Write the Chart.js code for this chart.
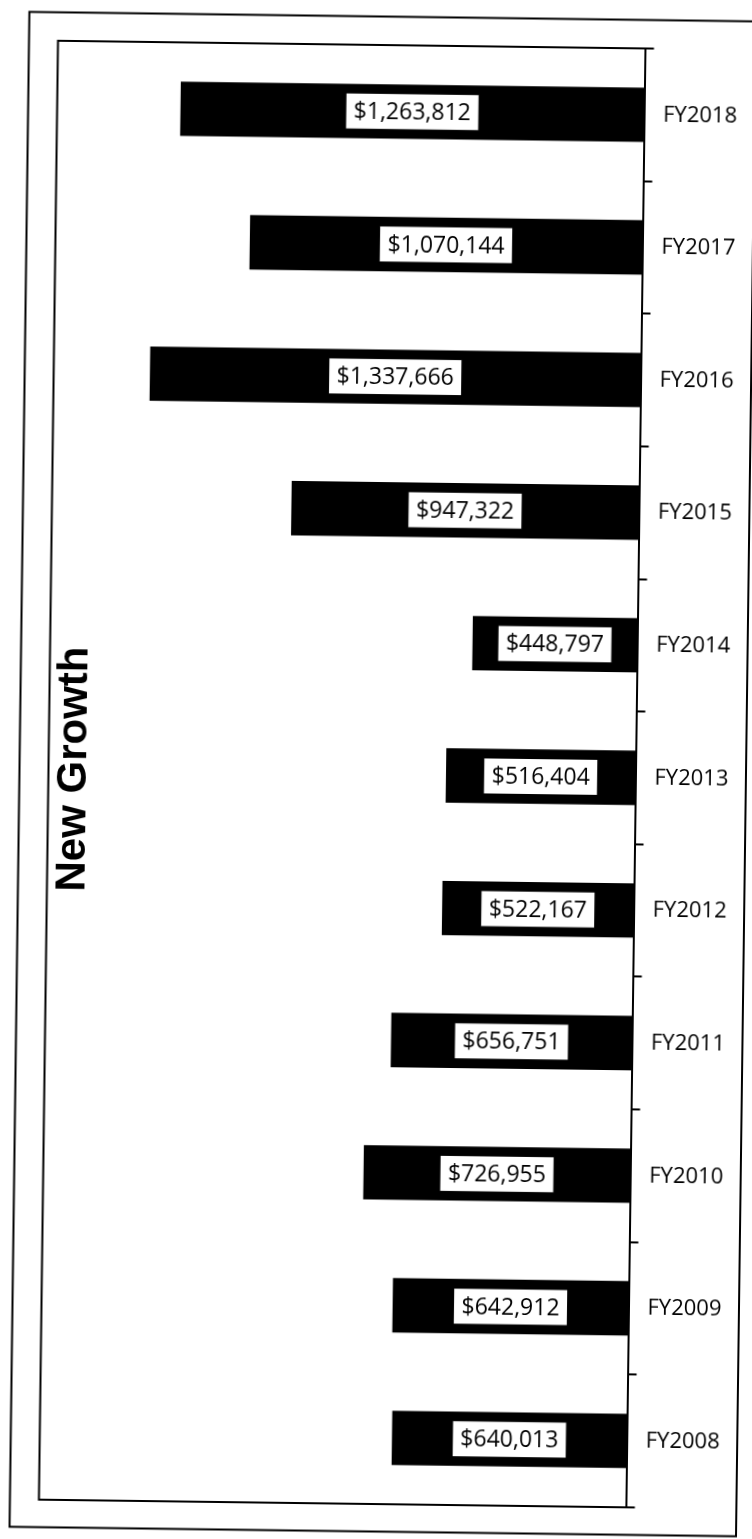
<!DOCTYPE html>
<html>
<head>
<meta charset="utf-8">
<script src="https://cdn.jsdelivr.net/npm/chart.js@4"></script>
<style>
  html, body { margin: 0; padding: 0; background: #fff; overflow: hidden; }
  #wrap { width: 752px; height: 1539px; transform: rotate(0.75deg); transform-origin: 376px 770px; }
</style>
</head>
<body>
<div id="wrap"><canvas id="chart_growth" width="752" height="1539"></canvas></div>
<script>
// Categories, top to bottom
const years = ["FY2018", "FY2017", "FY2016", "FY2015", "FY2014", "FY2013",
               "FY2012", "FY2011", "FY2010", "FY2009", "FY2008"];

// New growth amount per year ($)
const newGrowth = [1263812, 1070144, 1337666, 947322, 448797, 516404,
                   522167, 656751, 726955, 642912, 640013];

const chartTitle = "New Growth";
const axisMax = 1600000;

// Outer frame + plot area border (left, top, bottom)
const framePlugin = {
  id: "frames",
  beforeDraw(chart) {
    const ctx = chart.ctx;
    const a = chart.chartArea;
    ctx.save();
    ctx.fillStyle = "#fff";
    ctx.fillRect(0, 0, chart.width, chart.height);
    ctx.strokeStyle = "#000";
    ctx.lineWidth = 2;
    ctx.strokeRect(19.5, 16.5, 726.5, 1515);
    ctx.beginPath();
    ctx.moveTo(a.right, a.top);
    ctx.lineTo(a.left, a.top);
    ctx.lineTo(a.left, a.bottom);
    ctx.lineTo(a.right, a.bottom);
    ctx.stroke();
    ctx.restore();
  }
};

// White value boxes in the middle of each bar
const labelPlugin = {
  id: "barLabels",
  afterDatasetsDraw(chart) {
    const ctx = chart.ctx;
    const meta = chart.getDatasetMeta(0);
    ctx.save();
    ctx.font = "23px 'Open Sans'";
    ctx.textAlign = "center";
    ctx.textBaseline = "middle";
    meta.data.forEach((bar, i) => {
      const text = "$" + newGrowth[i].toLocaleString("en-US");
      const cx = (bar.x + bar.base) / 2;
      const cy = bar.y;
      const w = ctx.measureText(text).width + 16;
      const h = 36;
      ctx.fillStyle = "#fff";
      ctx.fillRect(cx - w / 2, cy - h / 2, w, h);
      ctx.strokeStyle = "#000";
      ctx.lineWidth = 1;
      ctx.strokeRect(cx - w / 2, cy - h / 2, w, h);
      ctx.fillStyle = "#000";
      ctx.fillText(text, cx, cy + 1);
    });
    ctx.restore();
  }
};

// Vertical title on the left of the plot
const titlePlugin = {
  id: "sideTitle",
  afterDraw(chart) {
    const ctx = chart.ctx;
    ctx.save();
    ctx.translate(86, 773);
    ctx.rotate(-Math.PI / 2);
    ctx.font = "bold 42px 'Liberation Sans'";
    ctx.fillStyle = "#000";
    ctx.textAlign = "center";
    ctx.textBaseline = "alphabetic";
    ctx.fillText(chartTitle, 0, 0);
    ctx.restore();
  }
};

window.onload = () => {
  let ctx = document.getElementById("chart_growth").getContext("2d");

  new Chart(ctx, {
    type: "bar",
    data: {
      labels: years,
      datasets: [{
        label: chartTitle,
        data: newGrowth,
        backgroundColor: "#000",
        borderWidth: 0,
        barPercentage: 0.41,
        categoryPercentage: 1
      }]
    },
    options: {
      indexAxis: "y",
      responsive: false,
      animation: false,
      layout: { padding: { left: 48.5, top: 45, bottom: 35, right: 0 } },
      plugins: { legend: { display: false }, tooltip: { enabled: false } },
      scales: {
        x: { display: false, reverse: true, min: 0, max: axisMax },
        y: {
          position: "right",
          grid: { offset: true, drawOnChartArea: false, drawTicks: true, tickLength: 9, color: "#000", lineWidth: 2 },
          border: { display: true, color: "#000", width: 2 },
          ticks: { color: "#000", padding: 10, font: { family: "'Open Sans'", size: 22 } },
          afterFit(scale) { scale.width = 116.5; }
        }
      }
    },
    plugins: [framePlugin, labelPlugin, titlePlugin]
  });
};
</script>
</body>
</html>
